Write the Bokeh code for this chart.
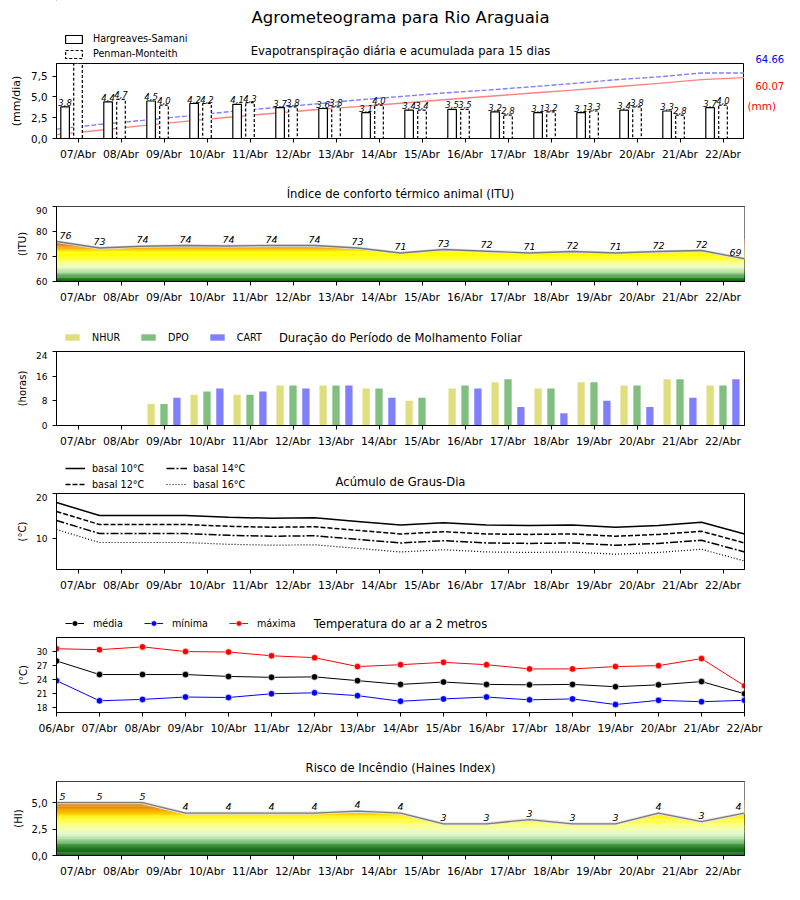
import numpy as np
from bokeh.plotting import figure
from bokeh.models import Range1d, FixedTicker, Legend, LegendItem
from bokeh.layouts import column, row
from bokeh.embed import file_html
from bokeh.resources import INLINE
from bokeh.core.properties import value

FONT = "DejaVu Sans"

# ---------------- data ----------------
days = ["07/Abr", "08/Abr", "09/Abr", "10/Abr", "11/Abr", "12/Abr", "13/Abr", "14/Abr",
        "15/Abr", "16/Abr", "17/Abr", "18/Abr", "19/Abr", "20/Abr", "21/Abr", "22/Abr"]
temp_days = ["06/Abr"] + days

et_hs = [3.8, 4.4, 4.5, 4.2, 4.1, 3.7, 3.6, 3.1, 3.4, 3.5, 3.2, 3.1, 3.1, 3.4, 3.3, 3.7]
et_pm = [9.2, 4.7, 4.0, 4.2, 4.3, 3.8, 3.8, 4.0, 3.4, 3.5, 2.8, 3.2, 3.3, 3.8, 2.8, 4.0]
acc_hs = [3.8, 8.2, 12.7, 16.9, 21.0, 24.7, 28.3, 31.4, 34.8, 38.3, 41.5, 44.6, 47.7,
          51.1, 54.4, 58.1, 60.07]
acc_pm = [9.2, 13.9, 17.9, 22.1, 26.4, 30.2, 34.0, 38.0, 41.4, 44.9, 47.7, 50.9, 54.2,
          58.0, 60.8, 64.66, 64.66]

itu = [76.0, 73.4, 74.1, 74.4, 74.2, 74.4, 74.4, 73.4, 71.4, 72.8, 72.1, 71.4, 72.0,
       71.4, 72.0, 72.4, 69.1]

nhur = [0, 0, 7, 10, 10, 13, 13, 12, 8, 12, 14, 12, 14, 13, 15, 13]
dpo = [0, 0, 7, 11, 10, 13, 13, 12, 9, 13, 15, 12, 14, 13, 15, 13]
cart = [0, 0, 9, 12, 11, 12, 13, 9, 0, 12, 6, 4, 8, 6, 9, 15]

gd10 = [18.0, 15.1, 15.1, 15.1, 14.7, 14.5, 14.6, 13.8, 13.0, 13.5, 13.0, 12.9, 13.0, 12.5, 12.9, 13.6, 11.0]
gd12 = [16.0, 13.1, 13.1, 13.1, 12.7, 12.5, 12.6, 11.8, 11.0, 11.5, 11.0, 10.9, 11.0, 10.5, 10.9, 11.6, 9.0]
gd14 = [14.0, 11.1, 11.1, 11.1, 10.7, 10.5, 10.6, 9.8, 9.0, 9.5, 9.0, 8.9, 9.0, 8.5, 8.9, 9.6, 7.0]
gd16 = [12.0, 9.1, 9.1, 9.1, 8.7, 8.5, 8.6, 7.8, 7.0, 7.5, 7.0, 6.9, 7.0, 6.5, 6.9, 7.6, 5.0]

t_med = [28.0, 25.1, 25.1, 25.1, 24.7, 24.5, 24.6, 23.8, 23.0, 23.5, 23.0, 22.9, 23.0, 22.5, 22.9, 23.6, 21.0]
t_min = [23.8, 19.5, 19.8, 20.3, 20.2, 21.0, 21.2, 20.6, 19.4, 19.9, 20.3, 19.7, 19.9, 18.7, 19.6, 19.3, 19.6]
t_max = [30.6, 30.4, 31.0, 30.0, 29.9, 29.1, 28.7, 26.8, 27.2, 27.7, 27.2, 26.3, 26.3, 26.8, 27.0, 28.5, 22.7]

haines = [5.0, 5.0, 5.0, 4.0, 4.0, 4.0, 4.0, 4.2, 4.0, 3.0, 3.0, 3.4, 3.0, 3.0, 4.0, 3.2, 4.0]

# ---------------- helpers ----------------
x16 = np.arange(len(days))
x17 = np.arange(len(days) + 1) - 0.5
OFF = [-1000]   # legend-only renderers live off-screen
FL = 56         # left edge of every plot frame (page px)


def interp_colors(stops, vals):
    sv = np.array([s[0] for s in stops], dtype=float)
    rgb = np.array([[int(h[1:3], 16), int(h[3:5], 16), int(h[5:7], 16)] for _, h in stops], dtype=float)
    out = []
    for v in vals:
        r = np.interp(v, sv, rgb[:, 0]); g = np.interp(v, sv, rgb[:, 1]); b = np.interp(v, sv, rgb[:, 2])
        out.append("#%02x%02x%02x" % (int(round(r)), int(round(g)), int(round(b))))
    return out


def base_fig(frame_h, bottom, y0, y1, xr=(-0.5, 15.5), right=56):
    p = figure(frame_width=688, frame_height=frame_h, x_range=Range1d(*xr), y_range=Range1d(y0, y1),
               output_backend="svg", toolbar_location=None, title=None,
               min_border_left=56, min_border_right=right, min_border_top=0, min_border_bottom=bottom)
    p.xgrid.visible = False
    p.ygrid.visible = False
    p.outline_line_color = "black"
    p.outline_line_alpha = 1.0
    p.outline_line_width = 1
    p.border_fill_color = "white"
    p.background_fill_color = "white"
    for ax in (p.xaxis[0], p.yaxis[0]):
        ax.axis_line_color = "black"
        ax.major_tick_line_color = "black"
        ax.major_tick_in = 0
        ax.major_tick_out = 4
        ax.minor_tick_in = 0
        ax.minor_tick_out = 0
        ax.major_label_text_font = FONT
        ax.major_label_text_color = "black"
        ax.axis_label_text_font = FONT
        ax.axis_label_text_font_style = "normal"
        ax.axis_label_text_color = "black"
        ax.axis_label_text_font_size = "10px"
    p.xaxis[0].major_label_text_font_size = "10.8px"
    p.xaxis[0].major_label_standoff = 5
    p.yaxis[0].major_label_standoff = 5
    if xr == (-0.5, 15.5):
        p.xaxis[0].ticker = FixedTicker(ticks=list(x16))
        p.xaxis[0].major_label_overrides = {int(i): d for i, d in zip(x16, days)}
    return p


def header(y0, y1, x0=0, x1=800, bl=56, br=56):
    """Blank figure whose data coordinates are page pixels."""
    h = figure(width=x1 - x0, height=y1 - y0, x_range=Range1d(x0 + bl, x1 - br),
               y_range=Range1d(y1, y0), output_backend="svg", toolbar_location=None, title=None,
               min_border_left=bl, min_border_right=br, min_border_top=0, min_border_bottom=0,
               x_axis_type=None, y_axis_type=None)
    h.outline_line_color = None
    h.border_fill_color = "white"
    h.background_fill_color = "white"
    h._bottom = y1
    return h


def htext(h, x, y, txt, size, color="black", align="center"):
    h.text(x=[x], y=[y], text=[txt], text_font=value(FONT), text_font_size=size,
           text_color=color, text_align=align, text_baseline="middle")


def mk_legend(h, items, x, y_bottom, orientation="vertical", glyph_w=20, glyph_h=10, standoff=8,
              spacing=4, label_h=11, size="9.6px"):
    h.add_layout(Legend(items=items, location=(x - FL, h._bottom - y_bottom), orientation=orientation,
                        background_fill_alpha=0, border_line_alpha=0, padding=0, margin=0,
                        label_text_font=FONT, label_text_font_size=size, label_text_color="black",
                        glyph_width=glyph_w, glyph_height=glyph_h, label_standoff=standoff,
                        spacing=spacing, label_height=label_h))


def comma(v):
    return ("%.1f" % v).replace(".", ",")


def gradient(p, stops, lo, hi, step, series, top):
    edges = np.arange(lo, hi + step / 2, step)
    cols = interp_colors(stops, (edges[:-1] + edges[1:]) / 2)
    p.quad(left=-1, right=16, bottom=edges[:-1], top=edges[1:] + step * 0.15, fill_color=cols,
           line_color=None)
    mx = np.concatenate([[x17[0] - 0.5], x17, [x17[-1] + 0.5]])
    my = np.concatenate([[series[0]], series, [series[-1]]])
    p.varea(x=mx, y1=my, y2=top, fill_color="white")
    p.line(x17, series, line_color="#e4e4e4", line_width=3.2)
    p.line(x17, series, line_color="#7a7a7a", line_width=1.3)


common = dict(text_font=value(FONT), text_font_size="9.5px", text_font_style="italic",
              text_baseline="bottom", text_color="black", y_offset=-3)


def point_labels(p, series):
    lbl = [str(int(round(v))) for v in series]
    p.text(x=x17[1:-1], y=series[1:-1], text=lbl[1:-1], text_align="center", **common)
    p.text(x=x17[:1], y=series[:1], text=lbl[:1], text_align="left", x_offset=3, **common)
    p.text(x=x17[-1:], y=series[-1:], text=lbl[-1:], text_align="right", x_offset=-3, **common)


# ---------------- panel 1: ET ----------------
h1 = header(0, 63, x0=0, x1=744, bl=56, br=0)
htext(h1, 400, 17, "Agrometeograma para Rio Araguaia", "16.5px")
htext(h1, 400, 50, "Evapotranspiração diária e acumulada para 15 dias", "11.6px")
l_hs = h1.vbar(x=OFF, top=OFF, width=1, fill_color="white", line_color="black", line_width=1.2)
l_pm = h1.vbar(x=OFF, top=OFF, width=1, fill_color="white", line_color="black", line_width=1.2,
               line_dash="3 2")
mk_legend(h1, [LegendItem(label="Hargreaves-Samani", renderers=[l_hs]),
               LegendItem(label="Penman-Monteith", renderers=[l_pm])],
          63, 59, glyph_w=21, glyph_h=10, standoff=9, spacing=4)

YMAX1 = 9.0
p1 = base_fig(75, 32, 0, YMAX1, right=0)
p1.extra_y_ranges = {"acc": Range1d(0, 74)}
p1.yaxis[0].ticker = FixedTicker(ticks=[0, 2.5, 5, 7.5])
p1.yaxis[0].major_label_overrides = {0: "0,0", 2.5: "2,5", 5: "5,0", 7.5: "7,5"}
p1.yaxis[0].major_label_text_font_size = "10.3px"
p1.yaxis[0].axis_label = "(mm/dia)"
p1.yaxis[0].axis_label_text_font_size = "11px"
p1.line(x17, acc_hs, y_range_name="acc", line_color="#ff8080", line_width=1.4)
p1.line(x17, acc_pm, y_range_name="acc", line_color="#8080ff", line_width=1.4, line_dash="5 2")
p1.vbar(x=x16 - 0.3, top=et_hs, width=0.2, fill_color="white", line_color="black", line_width=1.2)
p1.vbar(x=x16, top=et_pm, width=0.2, fill_color="white", line_color="black", line_width=1.2,
        line_dash="3 2")
for xx, ser in [(x16 - 0.3, et_hs), (x16, et_pm)]:
    keep = [i for i, v in enumerate(ser) if v < YMAX1 - 0.6]   # labels of clipped bars are off-frame
    p1.text(x=[xx[i] for i in keep], y=[ser[i] for i in keep], text=[comma(ser[i]) for i in keep],
            text_font=value(FONT), text_font_size="8.5px", text_font_style="italic",
            text_align="center", text_baseline="bottom", y_offset=-1, text_color="black")

s1 = header(0, 170, x0=744, x1=800, bl=0, br=0)
htext(s1, 755, 58, "%.2f" % acc_pm[-1], "10px", color="#0000ff", align="left")
htext(s1, 755, 85, "%.2f" % acc_hs[-1], "10px", color="#ff0000", align="left")
htext(s1, 747, 105, "(mm)", "10.5px", color="#ff0000", align="left")

# ---------------- panel 2: ITU ----------------
h2 = header(170, 206)
htext(h2, 400, 193, "Índice de conforto térmico animal (ITU)", "11.6px")
p2 = base_fig(75, 32, 60, 90)
p2.yaxis[0].ticker = FixedTicker(ticks=[60, 70, 80, 90])
p2.yaxis[0].major_label_text_font_size = "9px"
p2.yaxis[0].axis_label = "(ITU)"
itu_stops = [(60, "#0b5e0b"), (61, "#1f7a1f"), (62, "#4a9e4a"), (63, "#86c47a"), (64, "#b5e0a0"),
             (65, "#d6f2b8"), (66, "#eefcbc"), (67, "#f6ffa0"), (68, "#fbff70"), (69, "#ffff30"),
             (70, "#ffff00"), (71.8, "#ffff00"), (72.6, "#ffd700"), (73.5, "#f5a623"),
             (74.5, "#e8871a"), (76, "#d86a10"), (90, "#d86a10")]
gradient(p2, itu_stops, 60, 77, 0.5, itu, 90)
point_labels(p2, itu)

# ---------------- panel 3: wetness ----------------
h3 = header(313, 351)
htext(h3, 400, 337, "Duração do Período de Molhamento Foliar", "11.6px")
leg3 = []
for lab, col in [("NHUR", "#dfdf80"), ("DPO", "#80bf80"), ("CART", "#8080ff")]:
    rr = h3.vbar(x=OFF, top=OFF, width=1, fill_color=col, line_color=None)
    leg3.append(LegendItem(label=lab, renderers=[rr]))
mk_legend(h3, leg3, 63, 342.5, orientation="horizontal", glyph_w=18, glyph_h=8,
          standoff=11, spacing=19)
p3 = base_fig(74, 32, 0, 24)
p3.yaxis[0].ticker = FixedTicker(ticks=[0, 8, 16, 24])
p3.yaxis[0].major_label_text_font_size = "9px"
p3.yaxis[0].axis_label = "(horas)"
p3.vbar(x=x16 - 0.3, top=nhur, width=0.17, fill_color="#dfdf80", line_color=None)
p3.vbar(x=x16, top=dpo, width=0.17, fill_color="#80bf80", line_color=None)
p3.vbar(x=x16 + 0.3, top=cart, width=0.17, fill_color="#8080ff", line_color=None)

# ---------------- panel 4: degree days ----------------
dd_styles = [("basal 10°C", gd10, "solid", 1.5), ("basal 12°C", gd12, "5 2", 1.5),
             ("basal 14°C", gd14, "8 2 2 2", 1.5), ("basal 16°C", gd16, "1 2", 1.2)]
h4 = header(457, 493)
htext(h4, 400, 481, "Acúmulo de Graus-Dia", "11.6px")
leg4 = []
for lab, _, dash, lw in dd_styles:
    rr = h4.line(x=[-1000, -999], y=[-1000, -999], line_color="black", line_width=lw, line_dash=dash)
    leg4.append(LegendItem(label=lab, renderers=[rr]))
mk_legend(h4, leg4[:2], 65, 489.5, glyph_w=20, glyph_h=10, standoff=7, spacing=5)
mk_legend(h4, leg4[2:], 166, 489.5, glyph_w=21, glyph_h=10, standoff=6, spacing=5)
p4 = base_fig(76, 32, 3.1, 20)
p4.yaxis[0].ticker = FixedTicker(ticks=[10, 20])
p4.yaxis[0].major_label_text_font_size = "9px"
p4.yaxis[0].axis_label = "(°C)"
for lab, ser, dash, lw in dd_styles:
    p4.line(x17, ser, line_color="black", line_width=lw, line_dash=dash)

# ---------------- panel 5: temperature ----------------
t_styles = [("média", t_med, "black"), ("mínima", t_min, "blue"), ("máxima", t_max, "red")]
h5 = header(601, 637)
htext(h5, 400, 623, "Temperatura do ar a 2 metros", "11.6px")
leg5 = []
for lab, _, col in t_styles:
    rl = h5.line(x=[-1000, -999], y=[-1000, -999], line_color=col, line_width=1)
    rs = h5.scatter(x=OFF, y=OFF, size=6.5, fill_color=col, line_color="white", line_width=0.6)
    leg5.append(LegendItem(label=lab, renderers=[rl, rs]))
mk_legend(h5, leg5, 65, 630, orientation="horizontal", glyph_w=19, glyph_h=14,
          standoff=9, spacing=21)
p5 = base_fig(75, 33, 17, 33, xr=(0, 16))
xt = np.arange(len(temp_days))
p5.xaxis[0].ticker = FixedTicker(ticks=list(xt))
p5.xaxis[0].major_label_overrides = {int(i): d for i, d in zip(xt, temp_days)}
p5.yaxis[0].ticker = FixedTicker(ticks=[18, 21, 24, 27, 30])
p5.yaxis[0].major_label_text_font_size = "8.5px"
p5.yaxis[0].axis_label = "(°C)"
for lab, ser, col in t_styles:
    p5.line(xt, ser, line_color=col, line_width=1)
    p5.scatter(xt, ser, size=6.5, fill_color=col, line_color="white", line_width=0.6)

# ---------------- panel 6: Haines ----------------
h6 = header(745, 781)
htext(h6, 400, 767, "Risco de Incêndio (Haines Index)", "11.6px")
p6 = base_fig(74, 35, 0, 7)
p6.yaxis[0].ticker = FixedTicker(ticks=[0, 2.5, 5])
p6.yaxis[0].major_label_overrides = {0: "0,0", 2.5: "2,5", 5: "5,0"}
p6.yaxis[0].major_label_text_font_size = "10px"
p6.yaxis[0].axis_label = "(HI)"
hi_stops = [(0, "#0a560a"), (0.6, "#1d741d"), (1.1, "#4a9e4a"), (1.5, "#92cc84"), (1.8, "#c4eab0"),
            (2.1, "#e4f8cc"), (2.5, "#f4ffb0"), (2.9, "#fbff80"), (3.3, "#ffff20"), (3.7, "#fff000"),
            (4.0, "#ffc400"), (4.4, "#f0a000"), (4.7, "#e07f00"), (5.0, "#d06400"), (7, "#d06400")]
gradient(p6, hi_stops, 0, 5.2, 0.1, haines, 7)
point_labels(p6, haines)

layout = column(row(column(h1, p1, spacing=0), s1, spacing=0),
                h2, p2, h3, p3, h4, p4, h5, p5, h6, p6, spacing=0)
open("out.html", "w").write(file_html(layout, INLINE))
